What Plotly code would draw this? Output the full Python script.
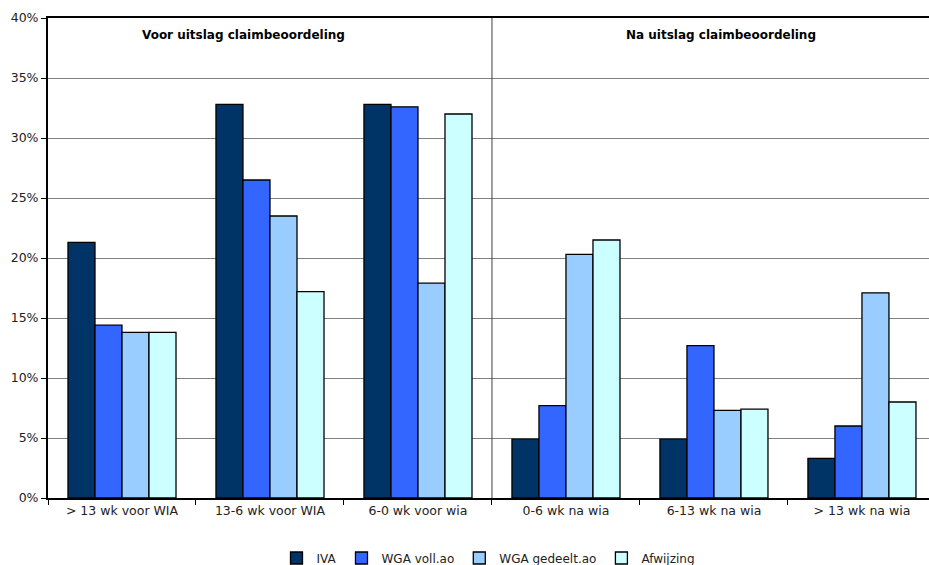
import plotly.graph_objects as go

categories = ["> 13 wk voor WIA", "13-6 wk voor WIA", "6-0 wk voor wia",
              "0-6 wk na wia", "6-13 wk na wia", "> 13 wk na wia"]
iva = [21.3, 32.8, 32.8, 4.9, 4.9, 3.3]
wga_voll = [14.4, 26.5, 32.6, 7.7, 12.7, 6.0]
wga_gedeelt = [13.8, 23.5, 17.9, 20.3, 7.3, 17.1]
afwijzing = [13.8, 17.2, 32.0, 21.5, 7.4, 8.0]

series = [("IVA", iva, "#003366"), ("WGA voll.ao", wga_voll, "#3366FF"),
          ("WGA gedeelt.ao", wga_gedeelt, "#99CCFF"), ("Afwijzing", afwijzing, "#CCFFFF")]

font = "DejaVu Sans, Verdana, sans-serif"
fig = go.Figure()
for name, vals, col in series:
    fig.add_trace(go.Bar(x=categories, y=vals, name=name, marker_color=col,
                         marker_line_color="black", marker_line_width=1.3))

fig.add_vline(x=2.5, line_color="#404040", line_width=1)

fig.add_annotation(x=0.82, y=38.6, text="<b>Voor uitslag claimbeoordeling</b>", showarrow=False,
                   font=dict(size=12, color="black", family=font))
fig.add_annotation(x=4.05, y=38.6, text="<b>Na uitslag claimbeoordeling</b>", showarrow=False,
                   font=dict(size=12, color="black", family=font))

fig.update_layout(
    width=929, height=565, barmode="group", bargap=0.27, bargroupgap=0,
    plot_bgcolor="white", paper_bgcolor="white",
    margin=dict(l=48, r=0, t=18, b=67, autoexpand=False),
    font=dict(family=font, size=12, color="#222222"),
    showlegend=True,
    legend=dict(orientation="h", x=0.5, xanchor="center", y=-0.125, yanchor="middle",
                font=dict(size=12, family=font), itemwidth=30, traceorder="normal"),
    xaxis=dict(type="category", range=[-0.5, 5.453], tickson="boundaries", ticks="outside",
               ticklen=5, tickcolor="black", showline=True, linecolor="black", linewidth=2,
               mirror=True, showgrid=False, automargin=False,
               tickfont=dict(size=12.5, family=font)),
    yaxis=dict(range=[0, 40], dtick=5, ticksuffix="%", showgrid=True, gridcolor="#808080",
               gridwidth=1, showline=True, linecolor="black", linewidth=2, ticks="outside",
               ticklen=5, tickcolor="black", zeroline=False, automargin=False,
               tickfont=dict(size=12.5, family=font)),
)
fig.write_html("out.html", config={"displayModeBar": False},
               post_script="document.body.style.margin='0';document.body.style.overflow='hidden';")
